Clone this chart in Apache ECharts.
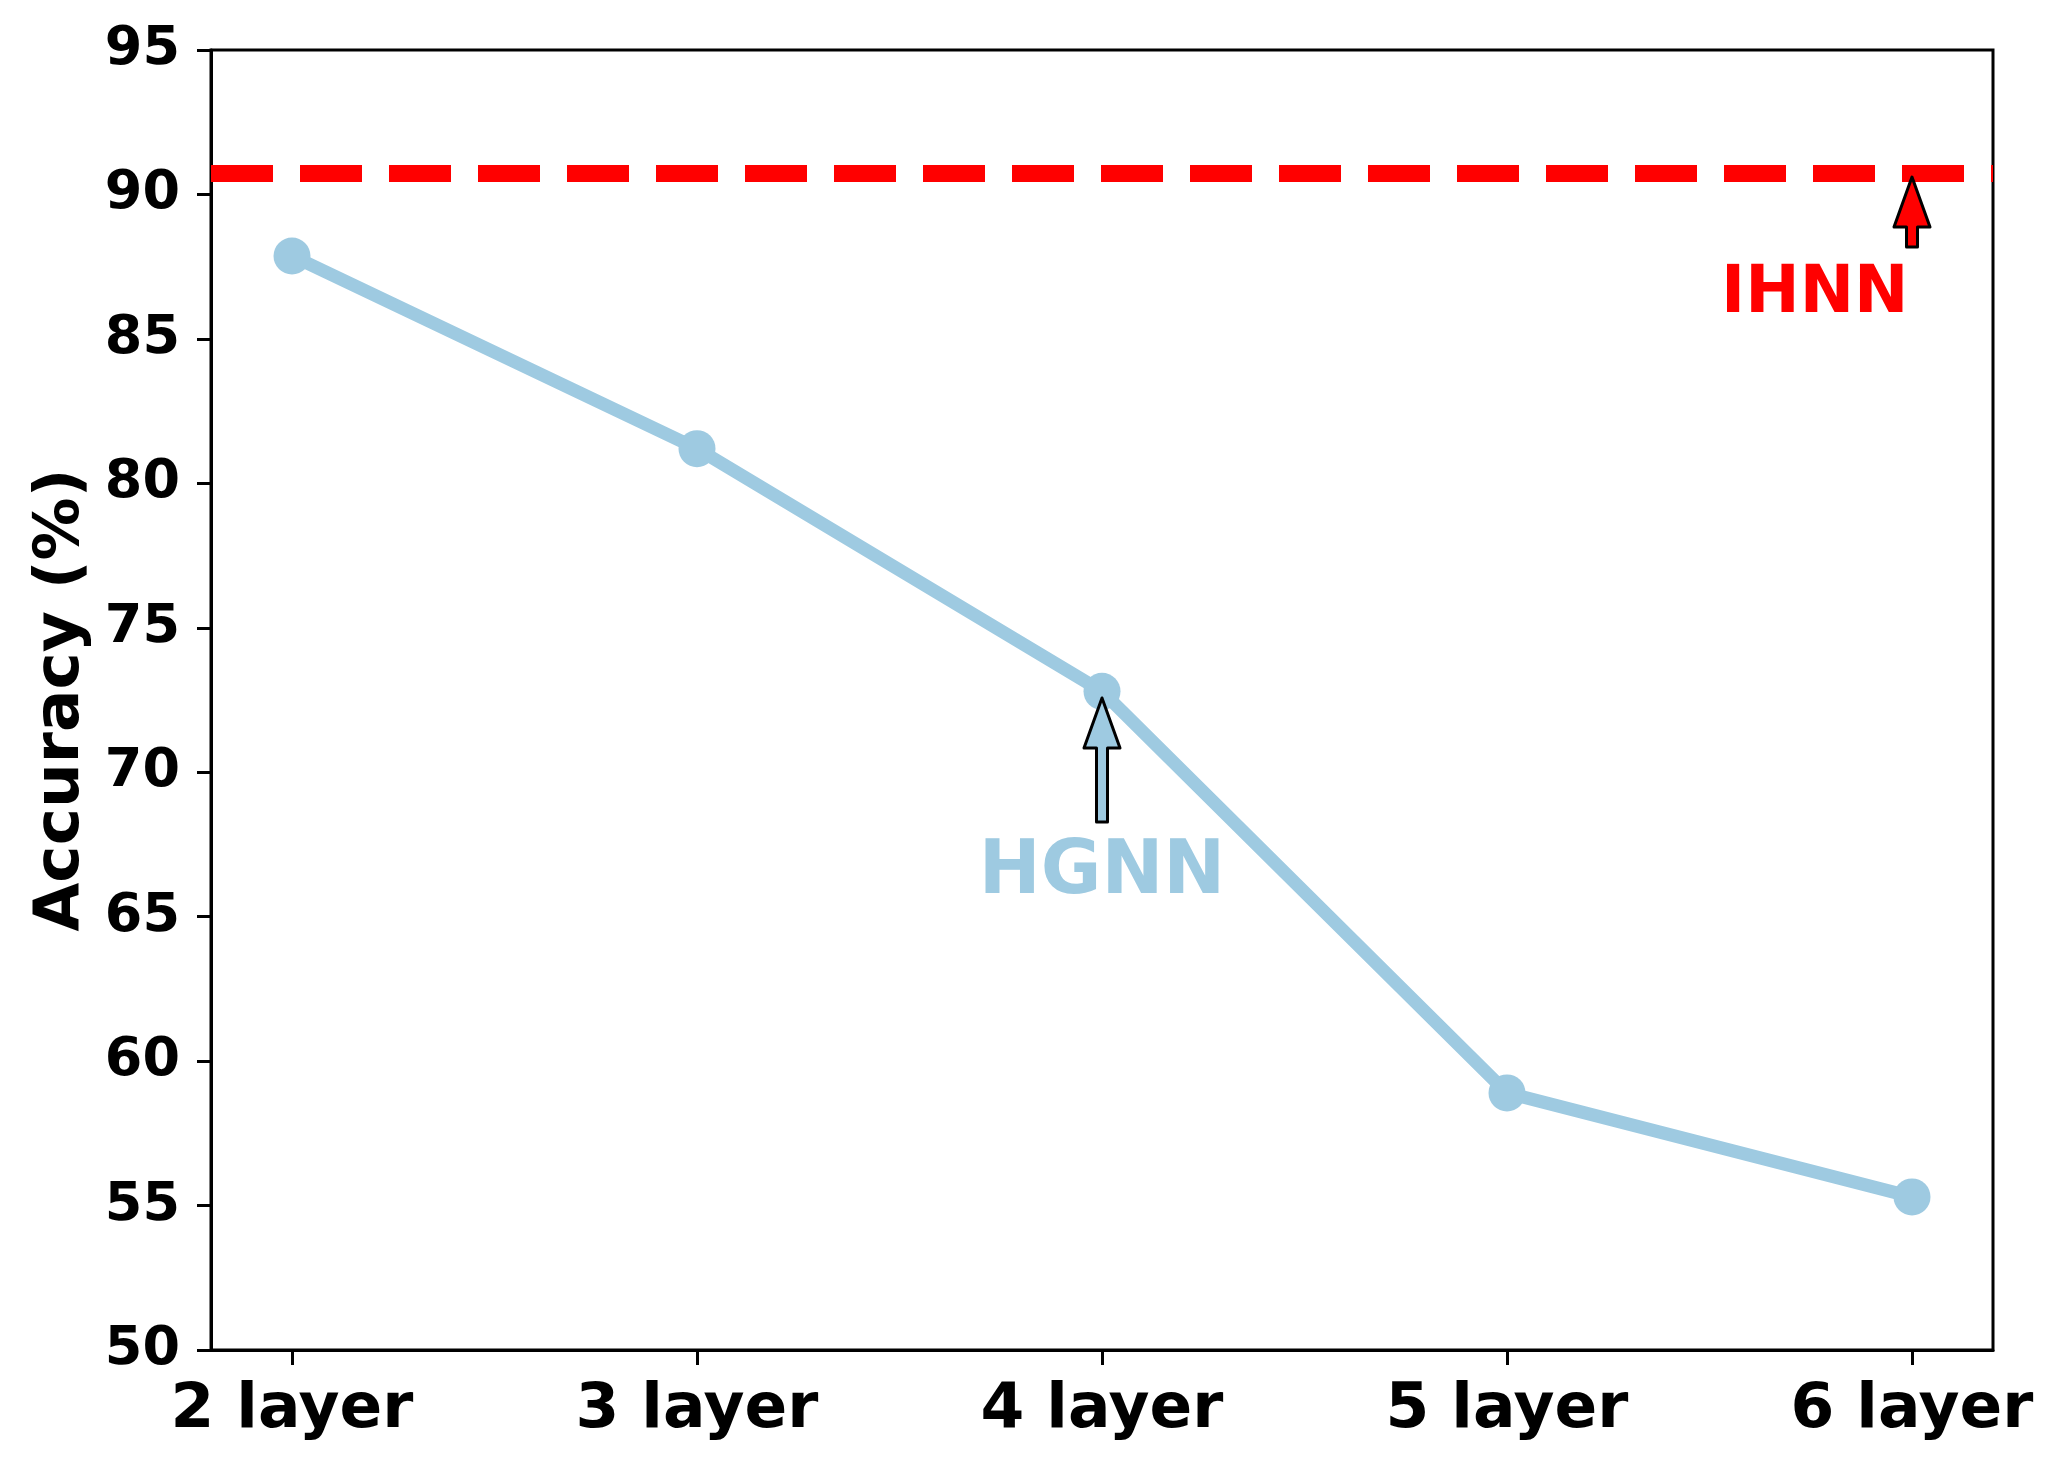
<!DOCTYPE html>
<html>
<head>
<meta charset="utf-8">
<script src="https://cdn.jsdelivr.net/npm/echarts@6/dist/echarts.min.js"></script>
<style>
  html, body { margin: 0; padding: 0; background: #fff; }
  #chart { width: 2062px; height: 1469px; }
</style>
</head>
<body>
<div id="chart"></div>
<script>
// data
const categories = ['2 layer', '3 layer', '4 layer', '5 layer', '6 layer']
const hgnnAcc = [87.87, 81.2, 72.8, 58.9, 55.3]
const ihnnAcc = 90.75

// annotations: [x index, value]
const hgnnArrowTip = [2, 72.57]
const hgnnArrowTail = [2, 68.28]
const hgnnTextAt = [2, 66.77]
const ihnnArrowTip = [4, 90.6]
const ihnnArrowTail = [4, 88.18]
const ihnnTextAt = [3.76, 86.78]

const blue = '#9ecae1'
const red = '#ff0000'
const font = 'DejaVu Sans'

var chart = echarts.init(document.getElementById('chart'))

const option = {
  animation: false,
  backgroundColor: '#fff',
  grid: {
    left: 211, right: 69, top: 50, bottom: 119,
    show: true, borderColor: '#000', borderWidth: 3, backgroundColor: 'transparent'
  },
  xAxis: {
    type: 'value',
    min: -0.2,
    max: 4.2,
    splitLine: { show: false },
    axisLine: { onZero: false, lineStyle: { color: '#000', width: 3 } },
    axisTick: { show: true, customValues: [0, 1, 2, 3, 4], length: 15, lineStyle: { color: '#000', width: 3 } },
    axisLabel: {
      customValues: [0, 1, 2, 3, 4],
      formatter: v => categories[Math.round(v)],
      color: '#000', fontFamily: font, fontWeight: 'bold', fontSize: 63, margin: 29
    }
  },
  yAxis: {
    type: 'value',
    min: 50,
    max: 95,
    interval: 5,
    name: 'Accuracy (%)',
    nameLocation: 'middle',
    nameGap: 118,
    nameTextStyle: { color: '#000', fontFamily: font, fontWeight: 'bold', fontSize: 63 },
    splitLine: { show: false },
    axisLine: { show: true, onZero: false, lineStyle: { color: '#000', width: 3 } },
    axisTick: { show: true, length: 14, lineStyle: { color: '#000', width: 3 } },
    axisLabel: { color: '#000', fontFamily: font, fontWeight: 'bold', fontSize: 54, margin: 31, padding: [14, 0, 0, 0] }
  },
  series: [{
    name: 'HGNN',
    type: 'line',
    data: hgnnAcc.map((v, i) => [i, v]),
    symbol: 'circle',
    symbolSize: 37,
    itemStyle: { color: blue },
    lineStyle: { color: blue, width: 13 },
    markLine: {
      silent: true,
      symbol: 'none',
      label: { show: false },
      lineStyle: { color: red, width: 17, type: [62, 27], cap: 'butt' },
      data: [{ yAxis: ihnnAcc }]
    }
  }]
}
chart.setOption(option)

function px(p) { return chart.convertToPixel({ gridIndex: 0 }, p) }

function arrow(tipVal, tailVal, fill) {
  const t = px(tipVal), b = px(tailVal)
  const hl = 50, hw = 18, sw = 5.5
  return {
    type: 'polygon',
    z: 100,
    shape: { points: [
      [t[0], t[1]], [t[0] + hw, t[1] + hl], [t[0] + sw, t[1] + hl], [t[0] + sw, b[1]],
      [t[0] - sw, b[1]], [t[0] - sw, t[1] + hl], [t[0] - hw, t[1] + hl]
    ] },
    style: { fill: fill, stroke: '#000', lineWidth: 3, lineJoin: 'round' }
  }
}

function label(txt, at, color, size) {
  const p = px(at)
  return {
    type: 'text', z: 100,
    x: p[0], y: p[1] + size * 0.11,  // shift so cap height is centred
    style: { text: txt, fill: color, font: 'bold ' + size + 'px "' + font + '"', align: 'center', verticalAlign: 'middle' }
  }
}

chart.setOption({
  graphic: [
    arrow(hgnnArrowTip, hgnnArrowTail, blue),
    arrow(ihnnArrowTip, ihnnArrowTail, red),
    label('HGNN', hgnnTextAt, blue, 74),
    label('IHNN', ihnnTextAt, red, 65)
  ]
})
</script>
</body>
</html>
